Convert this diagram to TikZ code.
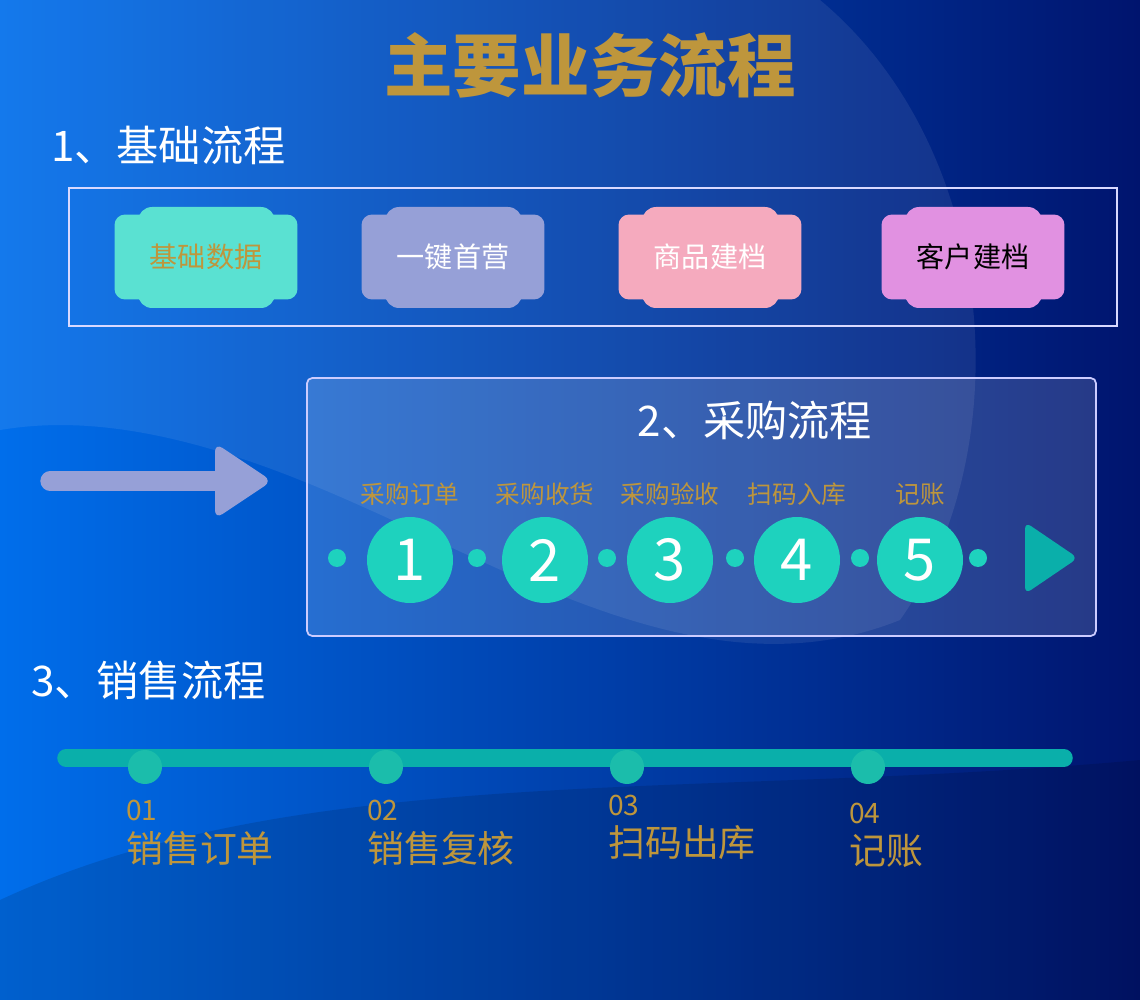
\documentclass[tikz,border=0pt]{standalone}
\usepackage{fontspec}
\setmainfont{Noto Sans CJK SC}
\usetikzlibrary{positioning,calc,shapes.misc}
\definecolor{gold}{RGB}{190,150,60}
\definecolor{tealc}{RGB}{30,210,190}
\definecolor{tealline}{RGB}{10,175,170}
\definecolor{lav}{RGB}{150,160,215}
\definecolor{mint}{RGB}{90,225,210}
\definecolor{pinkc}{RGB}{245,170,190}
\definecolor{orchidc}{RGB}{225,145,225}
\definecolor{bgA}{RGB}{0,110,235}
\definecolor{bgB}{RGB}{0,20,110}
\tikzset{
  tab/.style={rounded corners=6pt,minimum width=3.66cm,minimum height=1.7cm,font=\fontsize{16}{16}\selectfont},
  stepnum/.style={circle,fill=tealc,minimum size=1.72cm,text=white,font=\fontsize{33}{33}\selectfont},
  dotc/.style={circle,fill=tealc,minimum size=0.36cm,inner sep=0pt},
  steplabel/.style={text=gold,font=\fontsize{14}{14}\selectfont},
  heading/.style={text=white,font=\fontsize{24}{24}\selectfont,anchor=west},
  saledot/.style={circle,fill=tealc!90!black,minimum size=0.68cm,inner sep=0pt},
}
\begin{document}
\begin{tikzpicture}[x=0.02cm,y=-0.02cm]
\useasboundingbox (0,0) rectangle (1140,1000);
% background
\shade[left color=bgA,right color=bgB] (0,0) rectangle (1140,1000);
\fill[white,opacity=0.08] (0,0) -- (820,0) .. controls (1000,150) and (1020,450) .. (900,620) .. controls (700,700) and (500,560) .. (300,480) .. controls (150,420) and (60,420) .. (0,430) -- cycle;
\fill[black,opacity=0.12] (0,900) .. controls (300,760) and (700,800) .. (1140,760) -- (1140,1000) -- (0,1000) -- cycle;
% title
\node[text=gold,font=\fontsize{39}{39}\selectfont\bfseries] (title) at (590,65) {主要业务流程};
% 1
\node[heading] (h1) at (45,145) {1、基础流程};
\draw[white!85!blue,line width=1pt] (69,188) rectangle (1117,326);
\foreach \x/\c/\t/\tc/\n in {206/mint/基础数据/gold/b1,
    453/lav/一键首营/white/b2,
    710/pinkc/商品建档/white/b3,
    973/orchidc/客户建档/black/b4}{
  \fill[\c,rounded corners=8pt] (\x-68,207) rectangle (\x+69,308);
  \node[tab,fill=\c,text=\tc] (\n) at (\x,257) {\t};
}
% 2
\fill[white,opacity=0.15,rounded corners=3pt] (307,378) rectangle (1096,636);
\draw[white!80!blue,line width=1pt,rounded corners=3pt] (307,378) rectangle (1096,636);
\node[heading,anchor=center] (h2) at (755,420) {2、采购流程};
\coordinate (as) at (50,481);
\coordinate (ae) at (230,481);
\draw[lav,line width=11pt,line cap=round] (as) -- (ae);
\fill[lav,rounded corners=5pt] (215,443) -- (272,481) -- (215,519) -- cycle;
\foreach \x/\i/\t in {410/1/采购订单,545/2/采购收货,670/3/采购验收,797/4/扫码入库,920/5/记账}{
  \node[stepnum] (s\i) at (\x,560) {\i};
  \node[steplabel] (l\i) at (\x,494) {\t};
}
\foreach \x/\i in {337/0,477/1,607/2,735/3,860/4,978/5}
  \node[dotc] (d\i) at (\x,558) {};
\fill[tealline,rounded corners=4pt] (1025,522) -- (1078,558) -- (1025,594) -- cycle;
% 3
\node[heading] (h3) at (25,680) {3、销售流程};
\coordinate (ls) at (66,758);
\coordinate (le) at (1064,758);
\draw[tealline,line width=10pt,line cap=round] (ls) -- (le);
\foreach \x/\i/\y/\t in {145/01/810/销售订单,386/02/810/销售复核,627/03/805/扫码出库,868/04/813/记账}{
  \node[saledot] (p\i) at (\x,767) {};
  \node[text=gold,font=\fontsize{16}{16}\selectfont,anchor=west] (n\i) at (\x-25,\y) {\i};
  \node[text=gold,font=\fontsize{21}{21}\selectfont,anchor=west] (t\i) at (\x-25,\y+38) {\t};
}
\end{tikzpicture}
\end{document}
